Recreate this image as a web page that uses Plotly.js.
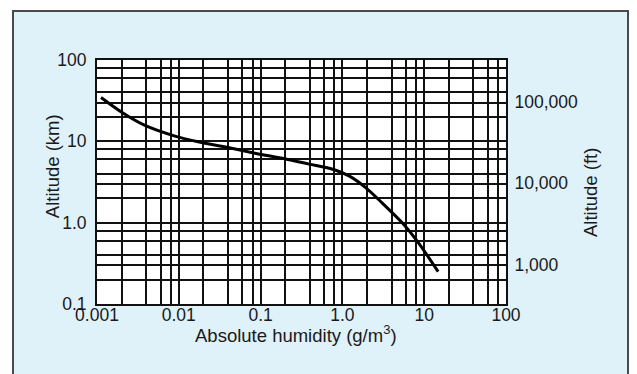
<!DOCTYPE html>
<html>
<head>
<meta charset="utf-8">
<script src="https://cdn.plot.ly/plotly-3.0.1.min.js"></script>
<style>
  html, body { margin: 0; padding: 0; background: #ffffff; width: 637px; height: 374px; overflow: hidden; }
  #panel { position: absolute; left: 12px; top: 10px; width: 617px; height: 400px;
           background: #dff1f9; border: 2px solid #4a4a4a; border-bottom: none; box-sizing: border-box; }
  #chart { position: absolute; left: 0; top: 0; width: 637px; height: 374px; }
</style>
</head>
<body>
<div id="panel"></div>
<div id="chart"></div>
<script>
// Absolute humidity (g/m^3) vs altitude (km)
const humidity = [0.00112, 0.00203, 0.0038, 0.00897, 0.0178, 0.0375, 0.088, 0.197, 0.39, 0.78, 1.22, 1.94, 3.06, 5.42, 8.56, 14.8];
const altitudeKm = [34.6, 22.6, 15.8, 11.6, 9.8, 8.5, 7.1, 6.1, 5.25, 4.5, 3.73, 2.68, 1.75, 0.99, 0.56, 0.25];

// Grid / tick positions
const xGrid = [0.001,0.002,0.004,0.006,0.008, 0.01,0.02,0.04,0.06,0.08, 0.1,0.2,0.4,0.6,0.8, 1,2,4,6,8, 10,20,40,60,80, 100];
const xLabels = {0.001:'0.001', 0.01:'0.01', 0.1:'0.1', 1:'1.0', 10:'10', 100:'100'};
const yGrid = [0.1,0.2,0.3,0.4,0.6,0.8, 1,2,3,4,6,8, 10,20,30,40,60,80, 100];
const yLabels = {0.1:'0.1', 1:'1.0', 10:'10', 100:'100'};
const ftTicks = [1000, 10000, 100000];
const ftLabels = ['1,000', '10,000', '100,000'];
const KM_PER_FT = 0.0003048;

const family = '"Liberation Sans", Arial, Helvetica, sans-serif';
const tickFont = {family: family, size: 17.5, color: '#1a1a1a'};
const titleFont = {family: family, size: 18.5, color: '#1a1a1a'};

const traces = [
  {x: humidity, y: altitudeKm, mode: 'lines', line: {color: '#000000', width: 3, shape: 'spline', smoothing: 0.8},
   hoverinfo: 'skip', showlegend: false},
  {x: humidity, y: altitudeKm.map(v => v / KM_PER_FT), yaxis: 'y2', mode: 'lines', opacity: 0,
   line: {width: 0}, hoverinfo: 'skip', showlegend: false}
];

const layout = {
  width: 637, height: 374,
  margin: {l: 97, r: 131, t: 60, b: 70, pad: 0},
  paper_bgcolor: 'rgba(0,0,0,0)',
  plot_bgcolor: '#ffffff',
  font: tickFont,
  showlegend: false,
  xaxis: {
    type: 'log', range: [-3, 2], tickmode: 'array', tickvals: xGrid,
    ticktext: xGrid.map(v => xLabels[v] || ''),
    showgrid: true, gridcolor: '#111111', gridwidth: 2,
    showline: true, linecolor: '#111111', linewidth: 2, mirror: true,
    ticks: '', ticklabelstandoff: -6, zeroline: false, tickfont: tickFont, fixedrange: true
  },
  yaxis: {
    type: 'log', range: [-1, 2], tickmode: 'array', tickvals: yGrid,
    ticktext: yGrid.map(v => yLabels[v] || ''),
    showgrid: true, gridcolor: '#111111', gridwidth: 2,
    showline: true, linecolor: '#111111', linewidth: 2, mirror: true,
    ticks: 'outside', ticklen: 5, tickcolor: 'rgba(0,0,0,0)', zeroline: false, tickfont: tickFont, fixedrange: true
  },
  yaxis2: {
    type: 'log', overlaying: 'y', side: 'right',
    range: [Math.log10(0.1 / KM_PER_FT), Math.log10(100 / KM_PER_FT)],
    tickmode: 'array', tickvals: ftTicks, ticktext: ftLabels,
    showgrid: false, showline: false, zeroline: false,
    ticks: 'outside', ticklen: 4, tickcolor: 'rgba(0,0,0,0)', tickfont: tickFont, fixedrange: true
  },
  annotations: [
    {text: 'Altitude (km)', xref: 'paper', yref: 'paper', x: -0.107, y: 0.566, textangle: -90,
     showarrow: false, font: titleFont, xanchor: 'center', yanchor: 'middle'},
    {text: 'Altitude (ft)', xref: 'paper', yref: 'paper', x: 1.208, y: 0.455, textangle: -90,
     showarrow: false, font: titleFont, xanchor: 'center', yanchor: 'middle'},
    {text: 'Absolute humidity (g/m<sup>3</sup>)', xref: 'paper', yref: 'paper', x: 0.487, y: -0.122,
     showarrow: false, font: titleFont, xanchor: 'center', yanchor: 'middle'}
  ]
};

Plotly.newPlot('chart', traces, layout, {staticPlot: true, displayModeBar: false});
</script>
</body>
</html>
